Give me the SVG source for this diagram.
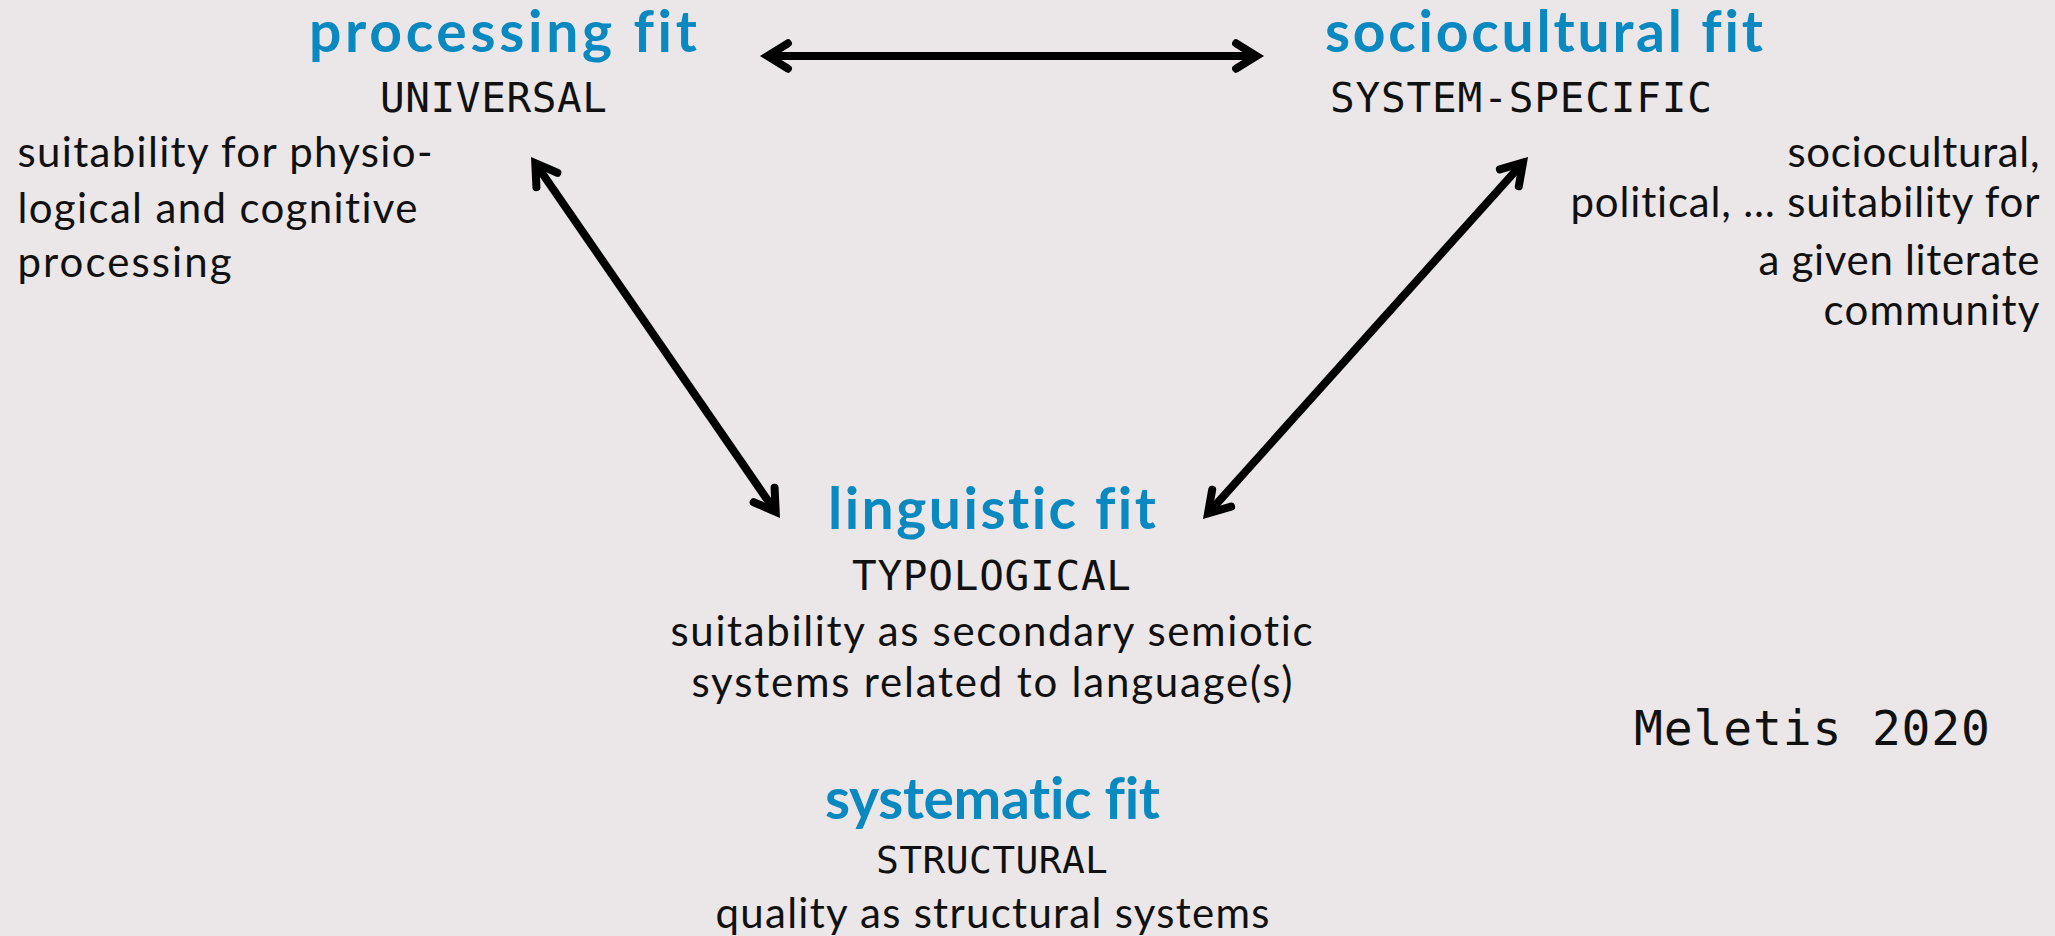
<svg xmlns="http://www.w3.org/2000/svg" width="2055" height="936" viewBox="0 0 2055 936">
  <defs>
    <style>
      text { font-variant-ligatures: none; font-feature-settings: "liga" 0, "clig" 0; }
      .title { font-family: Lato, "Open Sans", sans-serif; font-weight: 700; font-size: 57px; fill: #0a89c1; }
      .mono { font-family: "DejaVu Sans Mono", "Liberation Mono", monospace; font-size: 41px; fill: #111; }
      .body { font-family: Lato, "Open Sans", sans-serif; font-size: 42px; fill: #111; }
      .conn { stroke: #000; stroke-width: 8; fill: none; marker-start: url(#chev); marker-end: url(#chev); }
    </style>
    <marker id="chev" markerUnits="userSpaceOnUse" viewBox="-30 -20 40 40" refX="0" refY="0" markerWidth="40" markerHeight="40" orient="auto-start-reverse" overflow="visible">
      <path d="M -20.4,-12.7 L 0,0 L -20.4,12.7" fill="none" stroke="#000" stroke-width="8" stroke-linecap="round" stroke-linejoin="miter" stroke-miterlimit="10"/>
    </marker>
  </defs>
  <rect width="2055" height="936" fill="#ebe7e8"/>

  <g id="connectors">
    <line class="conn" x1="767.5" y1="56" x2="1256.5" y2="56"/>
    <line class="conn" x1="535.3" y1="163.2" x2="775.7" y2="511.8"/>
    <line class="conn" x1="1523.0" y1="162.6" x2="1208.0" y2="513.4"/>
  </g>

  <g id="node-processing">
    <text class="title" x="309" y="52" textLength="388">processing fit</text>
    <text class="mono" x="380" y="112" textLength="227">UNIVERSAL</text>
    <text class="body" x="17.5" y="167" textLength="415">suitability for physio-</text>
    <text class="body" x="17.5" y="223" textLength="400">logical and cognitive</text>
    <text class="body" x="17.5" y="277" textLength="214">processing</text>
  </g>

  <g id="node-sociocultural">
    <text class="title" x="1325" y="52" textLength="438">sociocultural fit</text>
    <text class="mono" x="1330" y="112" textLength="382">SYSTEM-SPECIFIC</text>
    <text class="body" x="1787.5" y="167" textLength="252">sociocultural,</text>
    <text class="body" x="1570.5" y="217" textLength="469">political, … suitability for</text>
    <text class="body" x="1758.5" y="275" textLength="281">a given literate</text>
    <text class="body" x="1823.5" y="325" textLength="216">community</text>
  </g>

  <g id="node-linguistic">
    <text class="title" x="828" y="529" textLength="328">linguistic fit</text>
    <text class="mono" x="852" y="590" textLength="279">TYPOLOGICAL</text>
    <text class="body" x="670.5" y="646" textLength="642">suitability as secondary semiotic</text>
    <text class="body" x="691.5" y="697" textLength="601">systems related to language(s)</text>
  </g>

  <g id="node-systematic">
    <text class="title" x="825" y="819" textLength="335">systematic fit</text>
    <text class="mono" x="876" y="873" textLength="232" style="font-size:38px">STRUCTURAL</text>
    <text class="body" x="715.5" y="928" textLength="554">quality as structural systems</text>
  </g>

  <g id="credit">
    <text class="mono" x="1634" y="745" textLength="356" style="font-size:48px">Meletis 2020</text>
  </g>
</svg>
